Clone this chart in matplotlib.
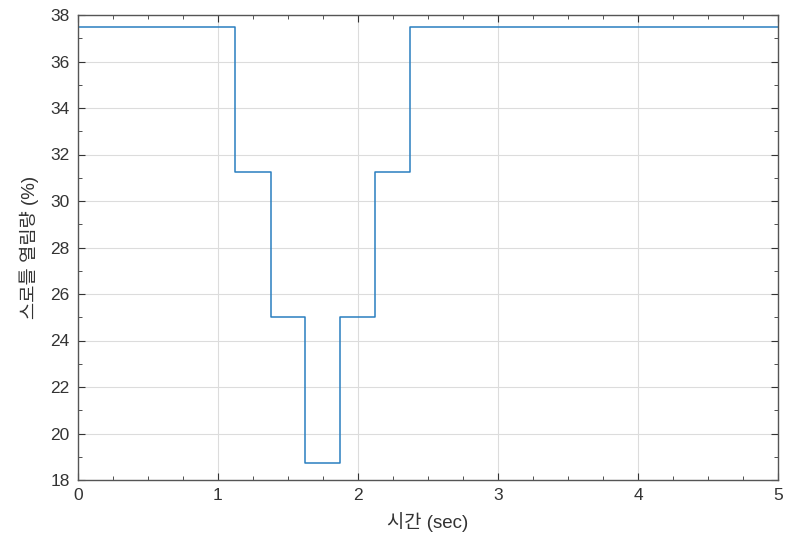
import matplotlib.pyplot as plt
from matplotlib.ticker import MultipleLocator

plt.rcParams['font.family'] = ['Liberation Sans', 'Noto Sans CJK KR', 'DejaVu Sans']

# step edges (sec) and throttle opening (%)
t_edges = [0, 1.125, 1.375, 1.625, 1.875, 2.125, 2.375, 5]
throttle = [37.5, 31.25, 25, 18.75, 25, 31.25, 37.5]

t = t_edges
y = throttle + [throttle[-1]]

fig = plt.figure(figsize=(7.86, 5.4), dpi=100)
ax = fig.add_axes([78 / 786, 60 / 540, 700 / 786, 465 / 540])

ax.step(t, y, where="post", color="#2a7fc0", linewidth=1.1)

ax.set_xlim(0, 5)
ax.set_ylim(18, 38)
ax.xaxis.set_major_locator(MultipleLocator(1))
ax.xaxis.set_minor_locator(MultipleLocator(0.25))
ax.yaxis.set_major_locator(MultipleLocator(2))
ax.yaxis.set_minor_locator(MultipleLocator(1))
ax.grid(True, which="major", color="#dcdcdc", linewidth=0.8)
ax.tick_params(which="both", direction="in", top=True, right=True,
               labelsize=12.5, colors="#333333")
ax.tick_params(which="major", length=5, pad=6)
ax.tick_params(which="minor", length=3)
for s in ax.spines.values():
    s.set_color("#555555")
    s.set_linewidth(1.0)

ax.set_xlabel("시간 (sec)", fontsize=13.5, color="#333333", labelpad=6)
ax.set_ylabel("스로틀 열림량 (%)", fontsize=13.5, color="#333333", labelpad=8)

plt.savefig("out.png", dpi=100)
